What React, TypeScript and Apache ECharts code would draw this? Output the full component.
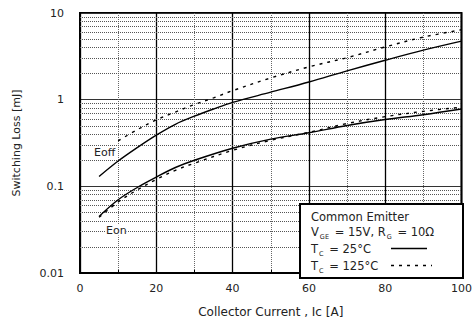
import React, { useEffect, useRef } from "react";
import * as echarts from "echarts";

// Collector current [A] and switching loss [mJ]
const eoff25X = [5, 10, 15, 20, 25, 30, 35, 40, 50, 60, 70, 80, 90, 100];
const eoff25Y = [0.13, 0.196, 0.28, 0.39, 0.52, 0.645, 0.78, 0.93, 1.22, 1.6, 2.15, 2.85, 3.73, 4.74];
const eoff125X = [10, 15, 20, 25, 30, 35, 40, 50, 60, 70, 80, 90, 100];
const eoff125Y = [0.335, 0.45, 0.585, 0.72, 0.88, 1.05, 1.27, 1.78, 2.39, 3.05, 4.06, 5.27, 6.4];
const eon25X = [5, 10, 15, 20, 25, 30, 40, 50, 60, 70, 80, 90, 100];
const eon25Y = [0.045, 0.07, 0.097, 0.128, 0.165, 0.2, 0.275, 0.35, 0.415, 0.504, 0.59, 0.67, 0.78];
const eon125X = [5, 10, 15, 20, 25, 30, 40, 50, 60, 70, 80, 90, 100];
const eon125Y = [0.044, 0.066, 0.091, 0.12, 0.153, 0.185, 0.26, 0.34, 0.42, 0.53, 0.637, 0.733, 0.82];

const minorGridValues = [0.02, 0.03, 0.04, 0.05, 0.06, 0.07, 0.08, 0.09, 0.2, 0.3, 0.4, 0.5, 0.6, 0.7, 0.8, 0.9, 2, 3, 4, 5, 6, 7, 8, 9];

const xTitle = "Collector Current , Ic [A]";
const yTitle = "Switching Loss [mJ]";

const FONT = "'DejaVu Sans', 'Liberation Sans', Arial, sans-serif";

const pairs = (xs: number[], ys: number[]) => xs.map((x, i) => [x, ys[i]]);

export default function App() {
  const ref = useRef<HTMLDivElement>(null);
  useEffect(() => {
    if (!ref.current) return;
    const chart = echarts.init(ref.current, null, { renderer: "svg" });
    const solid = { color: "#000", width: 1.4 };
    const dashed = { color: "#000", width: 1.4, type: [3, 5] as any };
    const lineBase = { type: "line", smooth: 0.35, symbol: "none", z: 5 };
    const rich = {
      n: { fontFamily: FONT, fontSize: 11.5, fill: "#222", lineHeight: 16, verticalAlign: "middle" },
      s: { fontFamily: FONT, fontSize: 6.5, fill: "#222", lineHeight: 16, verticalAlign: "bottom", padding: [0, 2, 0, 1] },
    };
    chart.setOption({
      animation: false,
      backgroundColor: "#fff",
      grid: {
        left: 80,
        right: 12,
        top: 13,
        bottom: 45,
        show: true,
        borderColor: "#000",
        borderWidth: 2,
        backgroundColor: "transparent",
      },
      xAxis: {
        type: "value",
        min: 0,
        max: 100,
        interval: 20,
        name: xTitle,
        nameLocation: "middle",
        nameGap: 33,
        nameTextStyle: { fontFamily: FONT, fontSize: 12, color: "#222" },
        axisLine: { show: true, lineStyle: { color: "#000", width: 2 } },
        axisTick: { show: true, inside: true, length: 3, lineStyle: { color: "#000" } },
        minorTick: { show: true, splitNumber: 2, length: 3, lineStyle: { color: "#000" } },
        axisLabel: { fontFamily: FONT, fontSize: 11, color: "#222", margin: 10 },
        splitLine: { show: true, lineStyle: { color: "#000", width: 1.3 } },
        minorSplitLine: { show: true, lineStyle: { color: "#666", width: 1, type: [1, 1] } },
      },
      yAxis: {
        type: "log",
        logBase: 10,
        min: 0.01,
        max: 10,
        name: yTitle,
        nameLocation: "middle",
        nameGap: 58,
        nameTextStyle: { fontFamily: FONT, fontSize: 11, color: "#222" },
        axisLine: { show: true, lineStyle: { color: "#000", width: 2 } },
        axisTick: { show: false },
        axisLabel: {
          fontFamily: FONT,
          fontSize: 11,
          color: "#222",
          margin: 16,
          formatter: (v: number) => String(parseFloat(v.toPrecision(3))),
        },
        splitLine: { show: true, lineStyle: { color: "#333", width: 1 } },
      },
      series: [
        {
          ...lineBase,
          name: "Eoff 25",
          data: pairs(eoff25X, eoff25Y),
          lineStyle: solid,
          markLine: {
            silent: true,
            symbol: "none",
            label: { show: false },
            lineStyle: { color: "#555", width: 1, type: [1, 1] },
            data: minorGridValues.map((v) => ({ yAxis: v })),
            z: 1,
          },
        },
        { ...lineBase, name: "Eoff 125", data: pairs(eoff125X, eoff125Y), lineStyle: dashed },
        { ...lineBase, name: "Eon 25", data: pairs(eon25X, eon25Y), lineStyle: solid },
        { ...lineBase, name: "Eon 125", data: pairs(eon125X, eon125Y), lineStyle: dashed },
      ],
      graphic: [
        {
          type: "text",
          x: 94,
          y: 152,
          z: 50,
          style: { text: "Eoff", fontFamily: FONT, fontSize: 11, fill: "#222", verticalAlign: "middle", backgroundColor: "#fff" },
        },
        {
          type: "text",
          x: 106,
          y: 230,
          z: 50,
          style: { text: "Eon", fontFamily: FONT, fontSize: 11, fill: "#222", verticalAlign: "middle", backgroundColor: "#fff" },
        },
        {
          type: "rect",
          z: 60,
          shape: { x: 300, y: 204, width: 163, height: 74 },
          style: { fill: "#fff", stroke: "#000", lineWidth: 2 },
        },
        {
          type: "text",
          x: 311,
          y: 217,
          z: 61,
          style: { text: "Common Emitter", fontFamily: FONT, fontSize: 11.5, fill: "#222", verticalAlign: "middle" },
        },
        {
          type: "text",
          x: 311,
          y: 232,
          z: 61,
          style: { text: "{n|V}{s|GE}{n| = 15V, R}{s|G}{n| = 10Ω}", verticalAlign: "middle", rich },
        },
        {
          type: "text",
          x: 311,
          y: 249,
          z: 61,
          style: { text: "{n|T}{s|C}{n| = 25°C}", verticalAlign: "middle", rich },
        },
        {
          type: "text",
          x: 311,
          y: 266,
          z: 61,
          style: { text: "{n|T}{s|C}{n| = 125°C}", verticalAlign: "middle", rich },
        },
        {
          type: "line",
          z: 61,
          shape: { x1: 391, y1: 248.5, x2: 427, y2: 248.5 },
          style: { stroke: "#000", lineWidth: 1.4 },
        },
        {
          type: "line",
          z: 61,
          shape: { x1: 391, y1: 265.5, x2: 432, y2: 265.5 },
          style: { stroke: "#000", lineWidth: 1.4, lineDash: [3, 5] },
        },
      ],
    });
    return () => chart.dispose();
  }, []);
  return <div ref={ref} style={{ position: "absolute", left: 0, top: 0, width: 475, height: 323 }} />;
}
